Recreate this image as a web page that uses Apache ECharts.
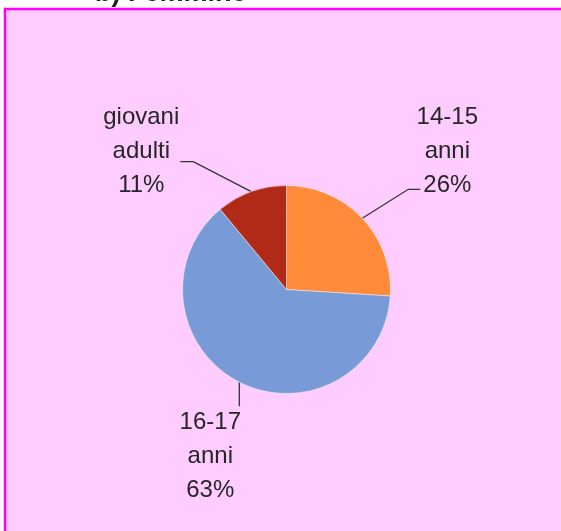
<!DOCTYPE html>
<html lang="it">
<head>
    <meta charset="UTF-8">
    <title>b) Femmine</title>
    <script type="text/javascript" src="https://cdn.jsdelivr.net/npm/echarts@6/dist/echarts.min.js"></script>
    <style>
        html, body { margin: 0; padding: 0; background: #ffffff; }
        #pieChart { width: 561px; height: 531px; }
    </style>
</head>
<body>
<div id="pieChart"></div>

<script type="text/javascript">
    // dati
    var categories = ['14-15 anni', '16-17 anni', 'giovani adulti'];
    var values = [26, 63, 11];
    var titleText = 'b) Femmine';

    var sliceColors = ['#ff8a3a', '#789bd7', '#b02a17'];

    // leader line: elbow / end offsets from the slice edge, label centre offset
    var leaderElbow = [[46, -29], [0, 24], [-58, -30]];
    var leaderEnd = [[58, -29], [0, 24], [-71, -30]];
    var labelCenter = [[85, -67], [-29, 74], [-110, -40]];

    var pieData = [];
    for (var i = 0; i < categories.length; i++) {
        pieData.push({
            name: categories[i],
            value: values[i],
            itemStyle: { color: sliceColors[i] }
        });
    }

    var pieChart = echarts.init(document.getElementById('pieChart'), null, { renderer: 'canvas' });

    pieChart.setOption({
        backgroundColor: '#ffffff',
        animation: false,
        graphic: [
            {
                type: 'rect',
                z: -10,
                shape: { x: 5, y: 9, width: 700, height: 700 },
                style: { fill: '#ffccff', stroke: '#ff00ff', lineWidth: 2.5 }
            },
            {
                // titolo tagliato in alto, come nell'originale
                type: 'text',
                z: -5,
                x: 95,
                y: -6,
                style: {
                    text: titleText,
                    fill: '#222222',
                    font: 'bold 27px "Liberation Sans"',
                    verticalAlign: 'middle'
                }
            }
        ],
        series: [{
            type: 'pie',
            center: [286.5, 289.5],
            radius: 104,
            startAngle: 90,
            clockwise: true,
            avoidLabelOverlap: false,
            data: pieData,
            itemStyle: {
                borderColor: 'rgba(255, 255, 255, 0.45)',
                borderWidth: 1
            },
            label: {
                show: true,
                position: 'outside',
                alignTo: 'none',
                color: '#262626',
                fontFamily: 'Liberation Sans',
                fontSize: 24,
                lineHeight: 34,
                align: 'center',
                formatter: function(p) {
                    return p.name.replace(' ', '\n') + '\n' + Math.round(p.percent) + '%';
                }
            },
            labelLine: {
                show: true,
                length: 10,
                length2: 10,
                lineStyle: { color: '#333333', width: 1.3 }
            },
            labelLayout: function(params) {
                var k = params.dataIndex;
                var p0 = params.labelLinePoints[0];
                return {
                    x: p0[0] + labelCenter[k][0],
                    y: p0[1] + labelCenter[k][1],
                    align: 'center',
                    verticalAlign: 'middle',
                    labelLinePoints: [
                        [p0[0], p0[1]],
                        [p0[0] + leaderElbow[k][0], p0[1] + leaderElbow[k][1]],
                        [p0[0] + leaderEnd[k][0], p0[1] + leaderEnd[k][1]]
                    ]
                };
            }
        }]
    });
</script>
</body>
</html>
